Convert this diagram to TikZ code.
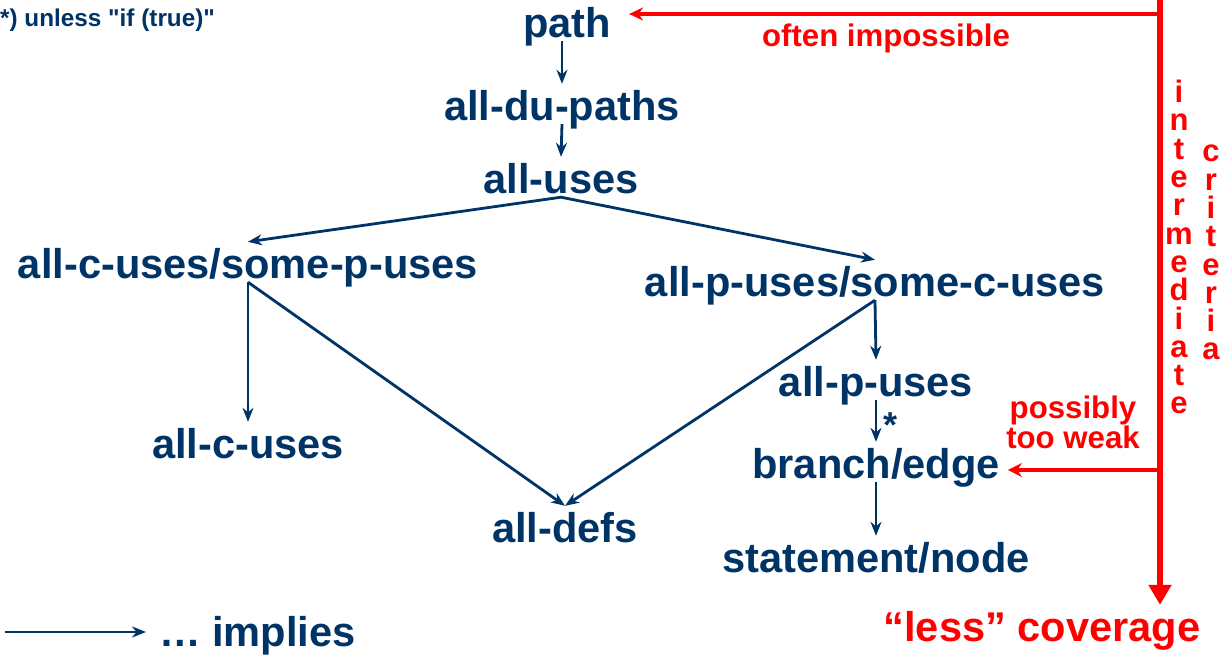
\documentclass[tikz,border=0pt]{standalone}
\usepackage{fontspec}
\setmainfont{Liberation Sans}[Ligatures=TeXOff]
\usetikzlibrary{arrows.meta}
\definecolor{critblue}{RGB}{0,51,102}

\begin{document}
\begin{tikzpicture}
  [x=1pt,y=-1pt,>={Stealth[length=14pt,width=11pt]},
  crit node/.style={text=critblue,font=\fontsize{41.6}{48}\selectfont\bfseries,
    inner sep=0pt,text height=36pt,text depth=4pt,anchor=base},
  red note/.style={text=red,font=\fontsize{31.2}{27}\selectfont\bfseries,inner sep=0pt},
  imp arrow/.style={->,critblue,line width=2.8pt},
  red bar/.style={red,line width=6.5pt}]
  \useasboundingbox (0,0) rectangle (1232,656);

  % coverage criteria
  \node[crit node] (path) at (567,37) {path};
  \node[crit node] (dupaths) at (562,120) {all-du-paths};
  \node[crit node] (uses) at (561,193) {all-uses};
  \node[crit node] (cspu) at (248,278) {all-c-uses/some-p-uses};
  \node[crit node] (pscu) at (875,296) {all-p-uses/some-c-uses};
  \node[crit node] (cuses) at (248,458) {all-c-uses};
  \node[crit node] (puses) at (876,396) {all-p-uses};
  \node[crit node] (branch) at (876,478) {branch/edge};
  \node[crit node] (defs) at (565,542) {all-defs};
  \node[crit node] (stmt) at (876,572) {statement/node};

  \path[imp arrow]
  (path.south -| dupaths.north) edge (dupaths.north)
  (dupaths.south) edge (uses.north)
  (uses.south) edge (cspu.north)
  (uses.south) edge (pscu.north)
  (cspu.south) edge (cuses.north)
  (cspu.south) edge (defs.north)
  (pscu.south) edge (defs.north)
  (pscu.south) edge (puses.north)
  (puses.south) edge node[right=6pt,yshift=-4pt,inner sep=0pt,
    font=\fontsize{36}{40}\selectfont\bfseries] {*} (branch.north)
  (branch.south) edge (stmt.north);

  % legend and footnote
  \node[text=critblue,font=\fontsize{24.3}{28}\selectfont\bfseries,inner sep=0pt,
    anchor=base west] (unless) at (0,26) {*) unless "if (true)"};
  \node[crit node,anchor=base west] (implies) at (159,646) {… implies};
  \coordinate (legend) at (5,632);
  \draw[imp arrow,shorten >=13pt] (legend) -- (legend -| implies.west);

  % red scale on the right
  \node[crit node,text=red] (less) at (1042,641) {“less” coverage};
  \coordinate (bartop) at (1160,0);
  \coordinate (barweak) at (1160,470);
  \draw[red bar,-{Triangle[length=20pt,width=22pt]}] (bartop) -- (bartop |- less.north);
  \draw[red,line width=3.5pt,-{Stealth[length=14pt,width=13pt]},shorten >=18pt]
    (bartop |- 0,14) -- (path.east |- 0,14);
  \draw[red,line width=4pt,-{Stealth[length=14pt,width=14pt]},shorten >=8pt]
    (barweak) -- (barweak -| branch.east);

  \node[red note,anchor=base] (often) at (886,46) {often impossible};
  \node[red note,align=center,anchor=north] (weak) at (1073,396) {possibly\\too weak};
  \node[red note,align=center,anchor=north,font=\fontsize{31}{28.3}\selectfont\bfseries]
    (inter) at (1179,80) {i\\n\\t\\e\\r\\m\\e\\d\\i\\a\\t\\e};
  \node[red note,align=center,anchor=north,font=\fontsize{31}{28.3}\selectfont\bfseries]
    (crit) at (1211,145) {c\\r\\i\\t\\e\\r\\i\\a};
\end{tikzpicture}
\end{document}
